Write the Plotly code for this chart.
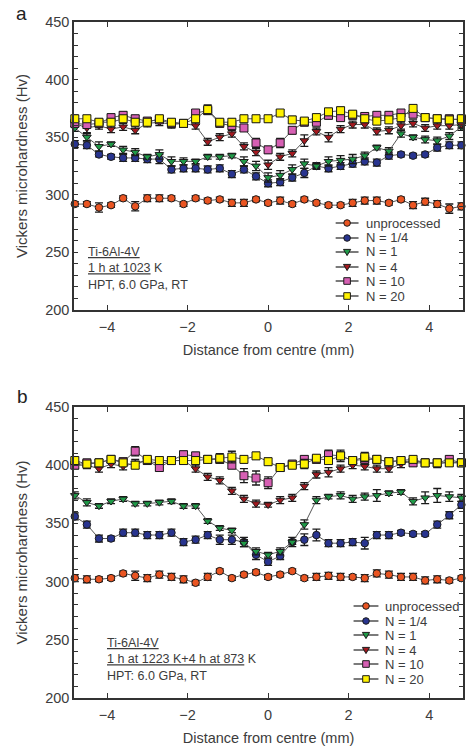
import plotly.graph_objects as go

# ---------------- data ----------------
x_mm = [-4.8, -4.5, -4.2, -3.9, -3.6, -3.3, -3.0, -2.7, -2.4, -2.1, -1.8, -1.5, -1.2, -0.9, -0.6, -0.3,
        0.0, 0.3, 0.6, 0.9, 1.2, 1.5, 1.8, 2.1, 2.4, 2.7, 3.0, 3.3, 3.6, 3.9, 4.2, 4.5, 4.8]

series_names = ["unprocessed", "N = 1/4", "N = 1", "N = 4", "N = 10", "N = 20"]

# panel a : 1 h at 1023 K
a_unprocessed = [292, 292, 289, 291, 297, 290, 297, 297, 297, 292, 297, 295, 296, 293, 293, 296, 293,
                 295, 292, 296, 293, 291, 291, 293, 295, 295, 293, 296, 291, 294, 292, 288, 290]
a_n025 = [344, 343, 335, 333, 332, 332, 331, 331, 322, 323, 323, 322, 323, 318, 322, 316, 310,
          311, 315, 319, 325, 323, 325, 327, 329, 328, 334, 335, 334, 335, 341, 343, 343]
a_n1 = [358, 350, 342, 344, 339, 337, 333, 335, 329, 329, 329, 333, 333, 334, 329, 325, 315,
        317, 322, 327, 325, 329, 330, 331, 334, 341, 338, 353, 350, 348, 347, 351, 359]
a_n4 = [362, 358, 360, 357, 359, 356, 362, 363, 361, 362, 360, 346, 350, 353, 342, 337, 326,
        333, 336, 347, 355, 350, 357, 361, 361, 355, 356, 360, 362, 358, 360, 360, 361]
a_n10 = [362, 361, 362, 367, 369, 366, 364, 365, 362, 362, 371, 373, 362, 360, 358, 345, 339,
         345, 356, 363, 363, 369, 367, 369, 368, 369, 369, 371, 370, 367, 366, 366, 365]
a_n20 = [366, 366, 363, 363, 366, 363, 363, 366, 363, 362, 366, 374, 363, 363, 366, 366, 366,
         371, 365, 364, 367, 372, 373, 370, 366, 364, 365, 367, 375, 367, 366, 365, 366]

a_err_unprocessed = [2, 2, 4, 2, 2, 4, 3, 3, 2, 2, 2, 2, 2, 3, 3, 2, 2, 3, 2, 2, 2, 2, 2, 3, 3, 3, 2, 2, 3, 3, 3, 4, 3]
a_err_n025 = [3, 3, 2, 2, 3, 3, 3, 4, 3, 3, 3, 3, 3, 3, 3, 3, 3, 3, 3, 4, 3, 3, 3, 3, 3, 3, 3, 2, 2, 2, 3, 3, 3]
a_err_n1 = [3, 3, 4, 2, 3, 3, 2, 4, 4, 3, 2, 2, 2, 2, 4, 4, 4, 4, 4, 4, 2, 4, 4, 4, 3, 2, 3, 3, 2, 3, 3, 3, 3]
a_err_n4 = [3, 4, 3, 3, 3, 3, 3, 3, 3, 3, 3, 3, 3, 3, 3, 3, 4, 3, 3, 5, 3, 4, 3, 3, 3, 3, 3, 3, 3, 3, 3, 3, 3]
a_err_n10 = [3, 3, 3, 3, 3, 3, 3, 3, 3, 3, 3, 3, 3, 3, 3, 4, 3, 4, 3, 3, 3, 3, 3, 3, 3, 3, 3, 3, 3, 3, 3, 3, 3]
a_err_n20 = [3, 3, 3, 3, 3, 3, 3, 3, 3, 3, 3, 4, 3, 3, 3, 3, 3, 3, 3, 3, 3, 3, 3, 3, 3, 3, 3, 3, 3, 3, 3, 3, 3]

# panel b : 1 h at 1223 K + 4 h at 873 K
b_unprocessed = [303, 302, 302, 303, 307, 305, 303, 306, 304, 302, 299, 304, 309, 303, 306, 308, 304,
                 306, 309, 303, 304, 305, 304, 304, 303, 307, 306, 304, 304, 301, 302, 301, 303]
b_n025 = [356, 349, 337, 337, 342, 342, 340, 340, 342, 334, 336, 340, 336, 336, 334, 323, 317,
          322, 334, 336, 340, 333, 333, 334, 333, 340, 340, 342, 341, 341, 349, 357, 366]
b_n1 = [374, 368, 365, 369, 371, 367, 367, 368, 369, 365, 365, 352, 346, 344, 333, 326, 323,
        326, 334, 349, 370, 373, 374, 371, 373, 374, 376, 377, 369, 372, 374, 373, 372]
b_n4 = [400, 400, 397, 401, 399, 402, 404, 401, 404, 404, 397, 390, 387, 378, 371, 367, 366,
        370, 372, 382, 392, 394, 397, 400, 399, 397, 397, 401, 404, 402, 401, 403, 402]
b_n10 = [400, 402, 402, 405, 403, 412, 404, 398, 404, 409, 408, 405, 405, 400, 391, 389, 385,
         398, 401, 405, 405, 409, 408, 404, 405, 405, 403, 404, 402, 402, 402, 405, 402]
b_n20 = [404, 401, 402, 405, 402, 400, 405, 404, 404, 404, 404, 405, 406, 407, 405, 408, 403,
         398, 400, 401, 406, 404, 408, 404, 407, 405, 403, 404, 405, 402, 402, 402, 402]

b_err_unprocessed = [3, 3, 2, 2, 2, 4, 3, 3, 3, 3, 2, 3, 2, 2, 2, 2, 2, 2, 2, 2, 3, 3, 3, 2, 3, 3, 3, 3, 3, 3, 3, 2, 2]
b_err_n025 = [3, 3, 3, 2, 3, 3, 3, 3, 3, 3, 3, 3, 4, 4, 4, 4, 3, 3, 4, 5, 5, 3, 3, 3, 5, 3, 3, 2, 2, 2, 3, 3, 3]
b_err_n1 = [3, 3, 2, 2, 2, 2, 2, 2, 2, 2, 2, 2, 2, 2, 3, 3, 2, 3, 2, 4, 3, 2, 3, 3, 3, 5, 2, 2, 3, 5, 6, 4, 3]
b_err_n4 = [3, 3, 3, 3, 3, 3, 3, 3, 3, 3, 3, 3, 3, 3, 3, 3, 2, 3, 3, 3, 3, 4, 3, 3, 3, 3, 3, 3, 3, 3, 3, 3, 3]
b_err_n10 = [3, 3, 3, 3, 3, 4, 3, 3, 3, 3, 3, 3, 3, 3, 6, 6, 5, 3, 3, 3, 3, 4, 5, 3, 3, 3, 3, 3, 3, 3, 3, 3, 3]
b_err_n20 = [3, 3, 3, 3, 3, 3, 3, 3, 3, 3, 3, 3, 4, 5, 3, 3, 3, 3, 3, 4, 3, 3, 3, 3, 4, 3, 3, 3, 3, 3, 3, 3, 3]

# ---------------- styles ----------------
colors = ["#ea5522", "#28348f", "#1f9a48", "#a3191f", "#d65fb3", "#fff200"]
symbols = ["circle", "circle", "triangle-down", "triangle-down", "square", "square"]
sizes = [7.5, 7.5, 7.5, 7.5, 8, 8]
FONT = "Arial, 'Liberation Sans', sans-serif"
TXT = "#3c3c3c"
EDGE = "#1a1a1a"

# plot-area geometry in pixels (for placing layout decorations)
L, R, T, B = 74, 465, 22, 698


def px2x(px):
    return (px - L) / (R - L)


def py2y(py):
    return (B - py) / (B - T)


panels = [
    ([a_unprocessed, a_n025, a_n1, a_n4, a_n10, a_n20],
     [a_err_unprocessed, a_err_n025, a_err_n1, a_err_n4, a_err_n10, a_err_n20], "x", "y"),
    ([b_unprocessed, b_n025, b_n1, b_n4, b_n10, b_n20],
     [b_err_unprocessed, b_err_n025, b_err_n1, b_err_n4, b_err_n10, b_err_n20], "x2", "y2"),
]

fig = go.Figure()
for vals, errs, xa, ya in panels:
    for i, name in enumerate(series_names):
        fig.add_trace(go.Scatter(
            x=x_mm, y=vals[i], name=name, mode="lines+markers",
            xaxis=xa, yaxis=ya, cliponaxis=False, showlegend=False,
            line=dict(color="#555555", width=1),
            marker=dict(symbol=symbols[i], size=sizes[i], color=colors[i],
                        line=dict(color=EDGE, width=1)),
            error_y=dict(type="data", array=errs[i], visible=True,
                         color=EDGE, thickness=1.3, width=4),
        ))

# ---------------- legends (drawn as layout decorations) ----------------
legend_specs = [
    dict(line_x0=337, line_x1=360, text_x=365, rows=[223, 238, 252, 267, 281, 296]),
    dict(line_x0=355, line_x1=380, text_x=385, rows=[606, 621, 635, 650, 664, 679]),
]
shapes = []
annotations = []
r = 3.3
for spec in legend_specs:
    mx = (spec["line_x0"] + spec["line_x1"]) / 2
    for i, name in enumerate(series_names):
        yy = py2y(spec["rows"][i])
        shapes.append(dict(type="line", xref="paper", yref="paper",
                           x0=px2x(spec["line_x0"]), x1=px2x(spec["line_x1"]), y0=yy, y1=yy,
                           line=dict(color="#222222", width=1.2)))
        common = dict(xref="paper", yref="paper", xsizemode="pixel", ysizemode="pixel",
                      xanchor=px2x(mx), yanchor=yy, fillcolor=colors[i],
                      line=dict(color=EDGE, width=1))
        if symbols[i] == "circle":
            shapes.append(dict(common, type="circle", x0=-r, x1=r, y0=-r, y1=r))
        elif symbols[i] == "square":
            shapes.append(dict(common, type="rect", x0=-r, x1=r, y0=-r, y1=r))
        else:
            shapes.append(dict(common, type="path", path="M-3.6,2.6 L3.6,2.6 L0,-3.6 Z"))
        annotations.append(dict(text=name, xref="paper", yref="paper", x=px2x(spec["text_x"]), y=yy,
                                xanchor="left", yanchor="middle", showarrow=False,
                                font=dict(family=FONT, size=13, color=TXT)))

annotations += [
    dict(text="a", xref="paper", yref="paper", x=px2x(21), y=py2y(14), xanchor="center", yanchor="middle",
         showarrow=False, font=dict(family=FONT, size=19, color="#222222")),
    dict(text="b", xref="paper", yref="paper", x=px2x(22), y=py2y(396), xanchor="center", yanchor="middle",
         showarrow=False, font=dict(family=FONT, size=19, color="#222222")),
    dict(text="<u>Ti-6Al-4V</u><br><u>1 h at 1023</u> K<br>HPT, 6.0 GPa, RT",
         xref="paper", yref="paper", x=px2x(86), y=py2y(243), xanchor="left", yanchor="top", align="left",
         showarrow=False, font=dict(family=FONT, size=12.5, color=TXT)),
    dict(text="<u>Ti-6Al-4V</u><br><u>1 h at 1223 K+4 h at 873</u> K<br>HPT: 6.0 GPa, RT",
         xref="paper", yref="paper", x=px2x(105), y=py2y(634), xanchor="left", yanchor="top", align="left",
         showarrow=False, font=dict(family=FONT, size=12.5, color=TXT)),
]

axis_common = dict(
    showline=True, linecolor="#333333", linewidth=1.5, mirror="allticks",
    ticks="inside", tickcolor="#333333", showgrid=False, zeroline=False,
    tickfont=dict(family=FONT, size=14.5, color=TXT),
)
x_common = dict(axis_common, range=[-4.82, 4.84], dtick=2, tick0=0, ticklen=5, ticklabelstandoff=3,
                title=dict(text="Distance from centre (mm)", font=dict(family=FONT, size=14.5, color=TXT),
                           standoff=11))
y_common = dict(axis_common, range=[200, 450], dtick=50, tick0=0, ticklen=4,
                minor=dict(dtick=10, ticks="inside", ticklen=4, tickcolor="#333333", showgrid=False),
                title=dict(text="Vickers microhardness (Hv)", font=dict(family=FONT, size=15, color=TXT),
                           standoff=14))

fig.update_layout(
    width=466, height=747,
    margin=dict(l=L, r=466 - R, t=T, b=747 - B),
    paper_bgcolor="white", plot_bgcolor="white",
    showlegend=False,
    xaxis=dict(x_common, domain=[0, 1], anchor="y"),
    yaxis=dict(y_common, domain=[py2y(310), 1], anchor="x"),
    xaxis2=dict(x_common, domain=[0, 1], anchor="y2"),
    yaxis2=dict(y_common, domain=[0, py2y(407)], anchor="x2"),
    shapes=shapes,
    annotations=annotations,
)

fig.write_html("out.html")
